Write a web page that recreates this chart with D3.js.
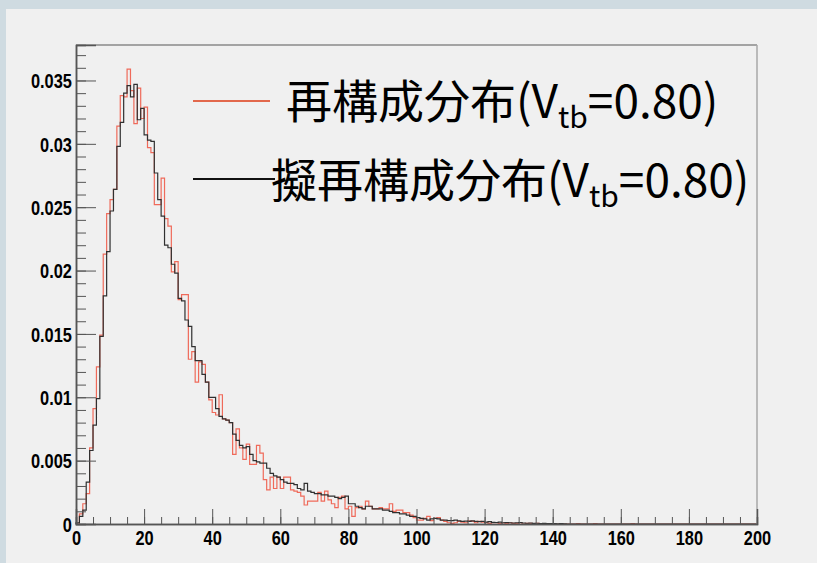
<!DOCTYPE html>
<html>
<head>
<meta charset="utf-8">
<script src="https://cdn.jsdelivr.net/npm/d3@7"></script>
<style>
body{margin:0;padding:0;background:#f0f0f0;}
svg{display:block;}
</style>
</head>
<body>
<svg id="dataPlot"></svg>
<script>
// bin contents, one value per unit bin from 0 to 200
var recoDist = [
0, 0.0008, 0.0016, 0.0024, 0.0060, 0.0091, 0.0124, 0.0149, 0.0213, 0.0245,
0.0256, 0.0264, 0.0314, 0.0338, 0.0337, 0.0359, 0.0342, 0.0316, 0.0344, 0.0320,
0.0329, 0.0297, 0.0293, 0.0252, 0.0252, 0.0273, 0.0241, 0.0235, 0.0199, 0.0207,
0.0177, 0.0181, 0.0181, 0.0130, 0.0136, 0.0112, 0.0128, 0.0126, 0.0112, 0.0098,
0.0088, 0.0086, 0.0102, 0.0083, 0.0082, 0.0080, 0.0055, 0.0075, 0.0060, 0.0051,
0.0063, 0.0047, 0.0047, 0.0062, 0.0056, 0.0035, 0.0027, 0.0037, 0.0028, 0.0037,
0.0028, 0.0037, 0.0037, 0.0027, 0.0026, 0.0025, 0.0022, 0.0015, 0.0018, 0.0018,
0.0018, 0.0025, 0.0018, 0.0026, 0.0019, 0.0016, 0.0013, 0.0021, 0.0022, 0.0012,
0.0014, 0.0006, 0.0013, 0.0014, 0.0012, 0.0018, 0.0014, 0.0012, 0.0012, 0.0013,
0.0012, 0.0012, 0.0016, 0.0010, 0.0011, 0.0011, 0.0009, 0.0009, 0.0007, 0.0005,
0.0003, 0.0003, 0.00045, 0.0006, 0.00026, 0.00045, 0.0005, 0.0003, 0.0002, 0.0001,
0.00005, 0.0001, 0.0002, 0.00015, 0.0001, 0.00025, 0.0002, 0.0001, 0.0002, 0.00015,
0.0001, 0.00005, 0.0001, 0.0001, 0.00005, 0.0001, 0.00005, 0.0001, 0.00005, 0.00005,
0.0001, 0, 0.00005, 0.00005, 0, 0.00005, 0, 0, 0, 0,
0, 0, 0, 0, 0, 0, 0, 0.00004, 0, 0,
0, 0, 0.00004, 0, 0, 0, 0, 0, 0, 0,
0, 0, 0, 0.00004, 0, 0, 0, 0, 0, 0,
0, 0, 0, 0, 0, 0, 0, 0, 0, 0,
0, 0, 0, 0, 0, 0, 0, 0, 0, 0,
0, 0, 0, 0, 0, 0, 0, 0, 0, 0
];

var pseudoDist = [
0.0001, 0.0006, 0.0011, 0.0033, 0.0058, 0.0078, 0.0099, 0.0148, 0.0180, 0.0215,
0.0247, 0.0264, 0.0298, 0.0317, 0.0340, 0.0346, 0.0337, 0.0347, 0.0319, 0.0328,
0.0307, 0.0303, 0.0302, 0.0277, 0.0256, 0.0243, 0.0220, 0.0218, 0.0205, 0.0198,
0.0178, 0.0176, 0.0161, 0.0156, 0.0140, 0.0129, 0.0129, 0.0118, 0.0112, 0.0100,
0.0100, 0.0091, 0.0085, 0.0083, 0.0082, 0.0080, 0.0071, 0.0066, 0.0062, 0.0060,
0.0061, 0.0055, 0.0050, 0.0049, 0.0048, 0.0048, 0.0044, 0.0040, 0.0038, 0.0037,
0.0035, 0.0033, 0.0032, 0.0032, 0.0031, 0.0028, 0.0027, 0.0032, 0.0026, 0.0025,
0.0024, 0.0024, 0.0023, 0.0023, 0.0022, 0.0022, 0.0021, 0.0020, 0.0021, 0.0022,
0.0016, 0.0016, 0.0014, 0.0013, 0.0012, 0.0014, 0.0014, 0.0012, 0.0012, 0.0012,
0.0011, 0.0011, 0.0010, 0.0009, 0.0009, 0.0008, 0.0008, 0.0007, 0.0006, 0.0006,
0.0005, 0.00045, 0.0004, 0.0003, 0.0004, 0.00045, 0.0004, 0.0003, 0.0003, 0.00026,
0.00026, 0.0003, 0.00025, 0.0002, 0.00022, 0.0002, 0.00025, 0.0002, 0.00018, 0.0002,
0.00015, 0.00018, 0.00013, 0.00012, 0.00015, 0.0001, 0.00012, 0.0001, 0.00008, 0.0001,
0.00012, 0.00008, 0.00006, 0.00008, 0.00005, 0.00006, 0.00004, 0.00005, 0.00003, 0.00004,
0.00003, 0.00002, 0.00003, 0.00002, 0, 0, 0, 0, 0, 0,
0, 0, 0, 0, 0, 0, 0, 0, 0, 0,
0, 0, 0, 0, 0, 0, 0, 0, 0, 0,
0, 0, 0, 0, 0, 0, 0, 0, 0, 0,
0, 0, 0, 0, 0, 0, 0, 0, 0, 0,
0, 0, 0, 0, 0, 0, 0, 0, 0, 0
];

var xTicks = [0, 20, 40, 60, 80, 100, 120, 140, 160, 180, 200];
var yTicks = [0, 0.005, 0.01, 0.015, 0.02, 0.025, 0.03, 0.035];
var yTickLabels = ["0", "0.005", "0.01", "0.015", "0.02", "0.025", "0.03", "0.035"];

var legendNames = ["再構成分布", "擬再構成分布"];
var legendSub = "tb";
var legendValue = "=0.80)";

var screen = {width:817, height:563};
var plot = {left:76, right:757, top:45, bottom:524};
var yMax = 0.0378;

var svg = d3.select("#dataPlot")
    .attr("width",screen.width)
    .attr("height",screen.height);

//outer window colour and pad
svg.append("rect")
    .attr("width",screen.width)
    .attr("height",screen.height)
    .attr("fill","#cfdbe1");
svg.append("rect")
    .attr("x",6)
    .attr("y",9)
    .attr("width",screen.width-6)
    .attr("height",screen.height-9)
    .attr("fill","#f0f0f0");

var xScale = d3.scaleLinear()
    .domain([0,200])
    .range([plot.left,plot.right]);

var yScale = d3.scaleLinear()
    .domain([0,yMax])
    .range([plot.bottom,plot.top]);

//step outline of a histogram
var histLine = d3.line()
    .x(function(d){ return xScale(d[0]); })
    .y(function(d){ return yScale(d[1]); })
    .curve(d3.curveStepAfter);

var histPoints = function(values)
{
    var pts = [[0,0]];
    values.forEach(function(v,i){ pts.push([i,v]); });
    pts.push([values.length,values[values.length-1]]);
    return pts;
}

svg.append("path")
    .attr("d",histLine(histPoints(recoDist)))
    .attr("fill","none")
    .attr("stroke","#ef6a5a")
    .attr("stroke-width",1.2);

svg.append("path")
    .attr("d",histLine(histPoints(pseudoDist)))
    .attr("fill","none")
    .attr("stroke","#303030")
    .attr("stroke-width",1.2);

//frame top and right
svg.append("line")
    .attr("x1",plot.left).attr("x2",plot.right)
    .attr("y1",plot.top).attr("y2",plot.top)
    .attr("stroke","#8a8a8a").attr("stroke-width",1.5);
svg.append("line")
    .attr("x1",plot.right).attr("x2",plot.right)
    .attr("y1",plot.top).attr("y2",plot.bottom)
    .attr("stroke","#a8a8a8").attr("stroke-width",1.5);

//x axis: minor every 5, major every 20
var xMinor = d3.axisBottom(xScale)
    .tickValues(d3.range(0,201,5))
    .tickSize(-7)
    .tickFormat("");
var xMajor = d3.axisBottom(xScale)
    .tickValues(xTicks)
    .tickSize(-15)
    .tickPadding(7)
    .tickFormat(d3.format("d"));

svg.append("g")
    .attr("transform","translate(0,"+plot.bottom+")")
    .call(xMinor);
var xg = svg.append("g")
    .attr("transform","translate(0,"+plot.bottom+")")
    .call(xMajor);

//y axis: minor every 0.001, major every 0.005
var yMinor = d3.axisLeft(yScale)
    .tickValues(d3.range(0,38).map(function(k){ return k/1000; }))
    .tickSize(-10)
    .tickFormat("");
var yMajor = d3.axisLeft(yScale)
    .tickValues(yTicks)
    .tickSize(-20)
    .tickFormat(function(d,i){ return yTickLabels[i]; });

svg.append("g")
    .attr("transform","translate("+plot.left+",0)")
    .call(yMinor);
var yg = svg.append("g")
    .attr("transform","translate("+plot.left+",0)")
    .call(yMajor);

svg.selectAll(".domain")
    .attr("stroke","#555")
    .attr("stroke-width",1.5);
svg.selectAll(".tick line")
    .attr("stroke","#555");

xg.selectAll("text")
    .attr("font-family","'Liberation Sans', Arial, sans-serif")
    .attr("font-weight","bold")
    .attr("font-size",20)
    .attr("fill","#000")
    .attr("transform","scale(0.82,1)");

yg.selectAll("text")
    .attr("font-family","'Liberation Sans', Arial, sans-serif")
    .attr("font-weight","bold")
    .attr("font-size",20)
    .attr("fill","#000")
    .attr("x",-5)
    .attr("dy","0.36em")
    .attr("transform","scale(0.82,1)");

//legend
var legend = [
    {name:legendNames[0], color:"#e2684c", y:101, x1:193, x2:270, tx:286, ty:118},
    {name:legendNames[1], color:"#111", y:179, x1:193, x2:275, tx:271, ty:197}
];

legend.forEach(function(l)
{
    svg.append("line")
        .attr("x1",l.x1).attr("x2",l.x2)
        .attr("y1",l.y).attr("y2",l.y)
        .attr("stroke",l.color)
        .attr("stroke-width",2);

    var t = svg.append("text")
        .attr("x",l.tx)
        .attr("y",l.ty)
        .attr("font-family","'Noto Sans CJK JP', sans-serif")
        .attr("font-size",46)
        .attr("fill","#000");
    t.append("tspan").text(l.name+"(V");
    t.append("tspan")
        .attr("font-size",30)
        .attr("dy",10)
        .text(legendSub);
    t.append("tspan")
        .attr("dy",-10)
        .text(legendValue);
});
</script>
</body>
</html>
